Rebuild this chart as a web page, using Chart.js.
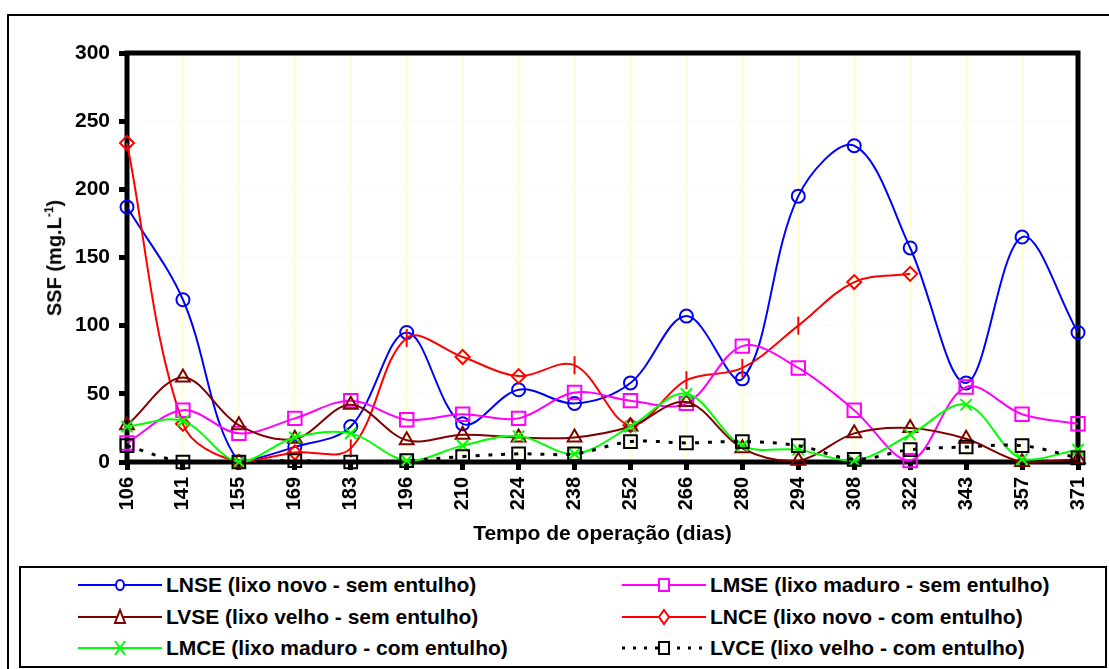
<!DOCTYPE html>
<html>
<head>
<meta charset="utf-8">
<script src="https://cdn.jsdelivr.net/npm/chart.js@4"></script>
<style>
body { margin: 0; background: #fff; font-family: "Liberation Sans", Arial, sans-serif; font-weight: bold; }
#wrap { position: relative; width: 1109px; height: 669px; overflow: hidden; }
#frame { position: absolute; left: 7px; top: 14px; width: 1200px; height: 700px; border: 2px solid #000; }
#box { position: absolute; left: 0; top: 0; width: 1109px; height: 560px; }
#ytitle { position: absolute; left: 54px; top: 258px; transform: translate(-50%, -50%) rotate(-90deg); font-size: 20px; white-space: nowrap; }
#ytitle sup { font-size: 12px; }
#legend { position: absolute; left: 19px; top: 566px; width: 1084px; height: 98px; border: 2px solid #000; background: #fff; }
.item { position: absolute; height: 24px; font-size: 21px; line-height: 24px; white-space: nowrap; }
.item svg { vertical-align: middle; margin-right: 4px; margin-top: -3px; }
</style>
</head>
<body>
<div id="wrap">
  <div id="frame"></div>
  <div id="box"><canvas id="myChart"></canvas></div>
  <div id="ytitle">SSF (mg.L<sup>-1</sup>)</div>
  <div id="legend"></div>
</div>
<script>
const labels = ['106','141','155','169','183','196','210','224','238','252','266','280','294','308','322','343','357','371'];

const lnse = [187, 119, 0, 11, 26, 95, 28, 53, 43, 58, 107, 61, 195, 232, 157, 58, 165, 95];
const lmse = [14, 38, 21, 32, 45, 31, 35, 32, 51, 45, 43, 85, 69, 38, 1, 55, 35, 28];
const lvse = [27, 62, 27, 17, 42, 16, 20, 18, 18, 26, 44, 10, 1, 21, 25, 17, 0, 2];
const lnce = [234, 28, 0, 7, 10, 91, 77, 63, 71, 27, 60, 69, 100, 132, 138, null, null, null];
const lmce = [26, 30, 0, 18, 21, 1, 12, 19, 6, 26, 50, 12, 9, 1, 20, 42, 2, 9];
const lvce = [12, 0, 0, 1, 0, 1, 4, 6, 6, 15, 14, 15, 12, 2, 9, 11, 12, 3];

// points of LNCE drawn with a vertical dash instead of a diamond
const lnceDash = [4, 5, 8, 10, 11, 12];

const seriesNames = [
    'LNSE (lixo novo - sem entulho)',
    'LMSE (lixo maduro - sem entulho)',
    'LVSE (lixo velho - sem entulho)',
    'LNCE (lixo novo - com entulho)',
    'LMCE (lixo maduro - com entulho)',
    'LVCE (lixo velho - com entulho)'
];

const fontFam = '"Liberation Sans", Arial, sans-serif';

var frame = {
    id: 'frame',
    beforeDatasetsDraw(chart) {
        const ctx = chart.ctx, a = chart.chartArea;
        ctx.save();
        ctx.lineWidth = 5;
        ctx.strokeStyle = '#000';
        ctx.strokeRect(a.left, a.top, a.right - a.left, a.bottom - a.top);
        ctx.restore();
    }
};

function line(label, data, color, style, radius, extra) {
    return Object.assign({
        label: label,
        data: data,
        borderColor: color,
        backgroundColor: 'rgba(0,0,0,0)',
        borderWidth: 2,
        pointStyle: style,
        pointRadius: radius,
        pointBorderColor: color,
        pointBorderWidth: 2,
        pointBackgroundColor: 'rgba(0,0,0,0)',
        tension: 0.35,
        clip: false,
        spanGaps: false
    }, extra || {});
}

const ctx = document.getElementById('myChart').getContext('2d');
new Chart(ctx, {
    type: 'line',
    data: {
        labels: labels,
        datasets: [
            line(seriesNames[5], lvce, '#000000', 'rect', 9, { borderWidth: 3, borderDash: [4, 9] }),
            line(seriesNames[4], lmce, '#00ff00', 'crossRot', 8),
            line(seriesNames[2], lvse, '#800000', 'triangle', 8),
            line(seriesNames[1], lmse, '#ff00ff', 'rect', 9.5),
            line(seriesNames[3], lnce, '#ff0000', 'rectRot', 7, {
                pointStyle: c => lnceDash.includes(c.dataIndex) ? 'line' : 'rectRot',
                pointRotation: c => lnceDash.includes(c.dataIndex) ? 90 : 0,
                pointRadius: c => lnceDash.includes(c.dataIndex) ? 9 : 7
            }),
            line(seriesNames[0], lnse, '#0000ff', 'circle', 6.5)
        ]
    },
    plugins: [frame],
    options: {
        animation: false,
        responsive: true,
        maintainAspectRatio: false,
        devicePixelRatio: 1,
        layout: { padding: { left: 0, top: 53, right: 24, bottom: 0 } },
        plugins: {
            legend: { display: false },
            tooltip: { enabled: false }
        },
        scales: {
            x: {
                offset: false,
                afterFit: s => { s.height = 98; },
                border: { display: false },
                grid: { color: '#ffffc4', lineWidth: 1, tickColor: '#000', tickWidth: 5, tickLength: 8 },
                ticks: {
                    color: '#000', padding: 7, minRotation: 90, maxRotation: 90, autoSkip: false,
                    font: { family: fontFam, size: 20, weight: 'bold' }
                },
                title: {
                    display: true,
                    text: 'Tempo de operação (dias)',
                    color: '#000',
                    padding: { top: 0, bottom: 13 },
                    font: { family: fontFam, size: 21, weight: 'bold' }
                }
            },
            y: {
                min: 0,
                max: 300,
                afterFit: s => { s.width = 127; },
                border: { display: false },
                grid: { color: '#ffffc4', lineWidth: 1, tickColor: '#000', tickWidth: 5, tickLength: 8 },
                ticks: {
                    stepSize: 50, color: '#000', padding: 9,
                    font: { family: fontFam, size: 21, weight: 'bold' }
                }
            }
        }
    }
});

// legend with small line samples
function sample(color, marker, dashed) {
    let s = '<svg width="84" height="20" viewBox="0 0 84 20">';
    s += '<line x1="0" y1="10" x2="84" y2="10" stroke="' + color + '" stroke-width="' + (dashed ? 3 : 2) + '"' +
        (dashed ? ' stroke-dasharray="3 8"' : '') + '/>';
    const c = 'fill="#fff" stroke="' + color + '" stroke-width="2"';
    if (marker === 'circle') s += '<ellipse cx="42" cy="10" rx="4" ry="5" ' + c + '/>';
    if (marker === 'square') s += '<rect x="37" y="4" width="10" height="12" ' + c + '/>';
    if (marker === 'triangle') s += '<polygon points="42,3 47,16 37,16" ' + c + '/>';
    if (marker === 'diamond') s += '<polygon points="42,3 47,10 42,17 37,10" ' + c + '/>';
    if (marker === 'x') s += '<path d="M37,3 L47,17 M47,3 L37,17" stroke="' + color + '" stroke-width="2" fill="none"/>';
    return s + '</svg>';
}

const legendItems = [
    { name: seriesNames[0], color: '#0000ff', marker: 'circle', col: 0, row: 0 },
    { name: seriesNames[1], color: '#ff00ff', marker: 'square', col: 1, row: 0 },
    { name: seriesNames[2], color: '#800000', marker: 'triangle', col: 0, row: 1 },
    { name: seriesNames[3], color: '#ff0000', marker: 'diamond', col: 1, row: 1 },
    { name: seriesNames[4], color: '#00ff00', marker: 'x', col: 0, row: 2 },
    { name: seriesNames[5], color: '#000000', marker: 'square', col: 1, row: 2, dashed: true }
];
const colLeft = [57, 601];
const rowTop = [5, 37, 68];
const leg = document.getElementById('legend');
legendItems.forEach(it => {
    const d = document.createElement('div');
    d.className = 'item';
    d.style.left = colLeft[it.col] + 'px';
    d.style.top = rowTop[it.row] + 'px';
    d.innerHTML = sample(it.color, it.marker, it.dashed) + it.name;
    leg.appendChild(d);
});
</script>
</body>
</html>
